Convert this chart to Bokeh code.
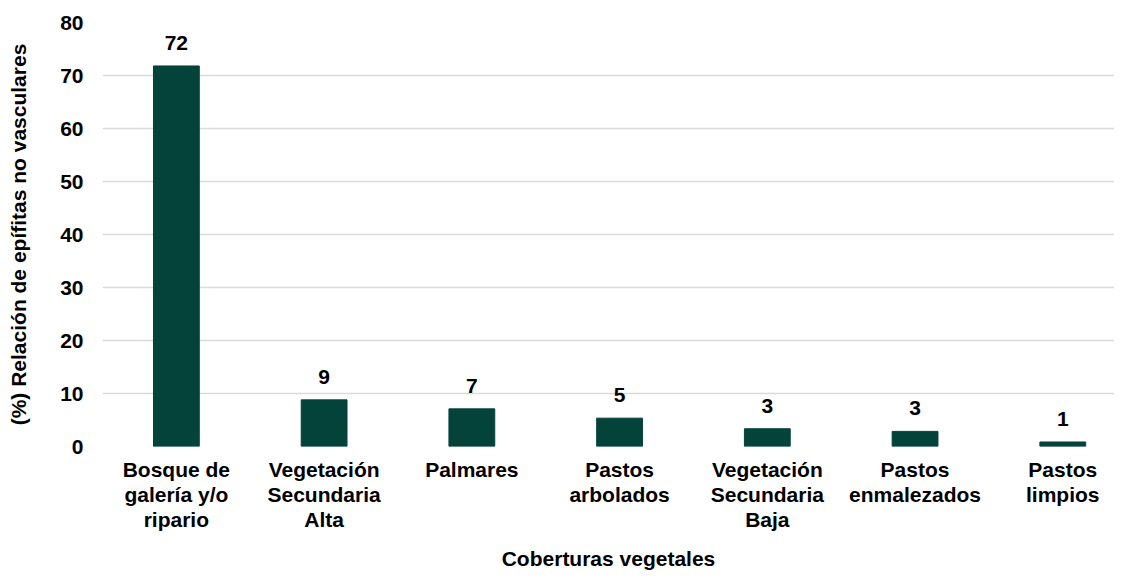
from bokeh.plotting import figure
from bokeh.models import FixedTicker, ColumnDataSource, Range1d
from bokeh.core.properties import value
from bokeh.embed import file_html
from bokeh.resources import INLINE

categories = [
    "Bosque de\ngalería y/o\nripario",
    "Vegetación\nSecundaria\nAlta",
    "Palmares",
    "Pastos\narbolados",
    "Vegetación\nSecundaria\nBaja",
    "Pastos\nenmalezados",
    "Pastos\nlimpios",
]
values = [71.8, 8.8, 7.1, 5.35, 3.35, 2.85, 0.85]
labels = ["72", "9", "7", "5", "3", "3", "1"]
y_ticks = [0, 10, 20, 30, 40, 50, 60, 70, 80]

FONT = "Liberation Sans"
FS = "21px"
BAR = "#03433A"

xs = list(range(len(categories)))
src = ColumnDataSource(dict(x=xs, top=values, lab=labels))

p = figure(width=1114, height=574, output_backend="svg", toolbar_location=None,
           x_range=Range1d(-0.5, 6.35), y_range=Range1d(0, 80),
           min_border_left=102, min_border_right=0, min_border_top=22, min_border_bottom=128)
p.outline_line_color = None
p.background_fill_color = "white"
p.border_fill_color = "white"

p.vbar(x="x", top="top", width=0.31, source=src, fill_color=BAR, line_color=BAR)
p.text(x="x", y="top", text="lab", source=src, text_align="center", text_baseline="middle",
       y_offset=-23, text_font=value(FONT), text_font_style="bold", text_font_size=FS,
       text_color="black")

p.xaxis.ticker = FixedTicker(ticks=xs)
p.xaxis.major_label_overrides = {i: c for i, c in zip(xs, categories)}
p.yaxis.ticker = FixedTicker(ticks=y_ticks)

for ax in (p.xaxis[0], p.yaxis[0]):
    ax.axis_line_color = None
    ax.major_tick_line_color = None
    ax.minor_tick_line_color = None
    ax.major_tick_out = 0
    ax.major_tick_in = 0
    ax.major_label_text_font = FONT
    ax.major_label_text_font_style = "bold"
    ax.major_label_text_font_size = FS
    ax.major_label_text_color = "black"
    ax.axis_label_text_font = FONT
    ax.axis_label_text_font_style = "bold"
    ax.axis_label_text_font_size = FS
    ax.axis_label_text_color = "black"

p.xaxis.major_label_text_line_height = 1.1
p.xaxis.axis_label = "Coberturas vegetales"
p.yaxis.axis_label = "(%) Relación de epífitas no vasculares"
p.yaxis.major_label_standoff = 19
p.yaxis.axis_label_standoff = 27
p.xaxis.major_label_standoff = 11
p.xaxis.axis_label_standoff = 13

p.xgrid.grid_line_color = None
p.ygrid.grid_line_color = "#d9d9d9"
p.ygrid.grid_line_width = 1.5

open("out.html", "w").write(file_html(p, INLINE))
